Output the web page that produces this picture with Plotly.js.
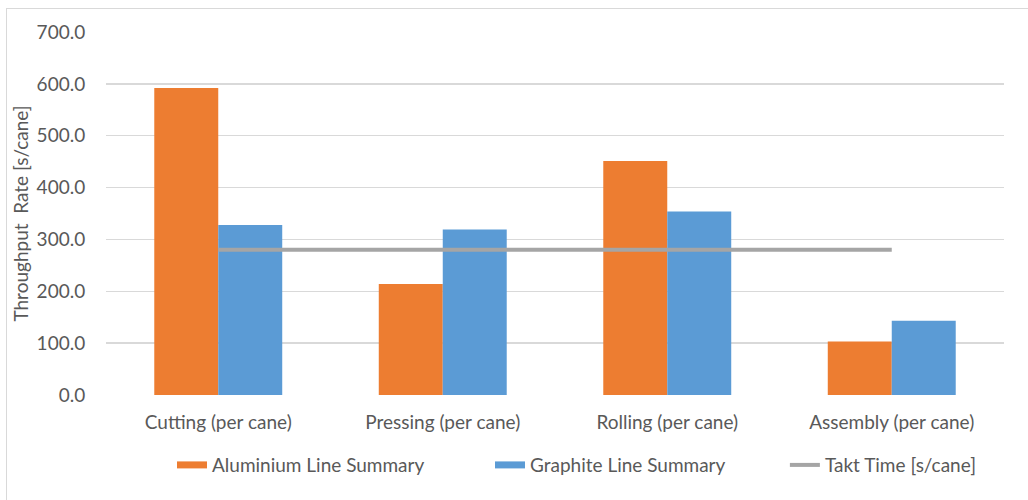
<!DOCTYPE html>
<html>
<head>
<meta charset="utf-8">
<script src="https://cdn.plot.ly/plotly-3.0.1.min.js"></script>
<style>
  html, body { margin: 0; padding: 0; background: #ffffff; overflow: hidden; }
  #chart { position: absolute; left: 0; top: 0; width: 1028px; height: 500px; }
  #frame { position: absolute; left: 6px; top: 8px; width: 1040px; height: 520px;
           border: 1.5px solid #d9d9d9; pointer-events: none; }
</style>
</head>
<body>
<div id="chart"></div>
<div id="frame"></div>
<script>
const categories = ["Cutting (per cane)", "Pressing (per cane)", "Rolling (per cane)", "Assembly (per cane)"];
const aluminiumValues = [592, 214, 451, 103];
const graphiteValues = [328, 319, 354, 143];
const taktValues = [280, 280, 280, 280];
const yTickValues = [0, 100, 200, 300, 400, 500, 600, 700];
const yTickLabels = ["0.0", "100.0", "200.0", "300.0", "400.0", "500.0", "600.0", "700.0"];
const seriesNames = ["Aluminium Line Summary", "Graphite Line Summary", "Takt Time [s/cane]"];

const fontFam = "Lato, 'Open Sans', sans-serif";
const textColor = "#595959";
const fs = 19;
const orange = "#ED7D31", blue = "#5B9BD5", gray = "#A5A5A5";

const data = [
  { type: "bar", name: seriesNames[0], x: categories, y: aluminiumValues,
    marker: { color: orange }, showlegend: false },
  { type: "bar", name: seriesNames[1], x: categories, y: graphiteValues,
    marker: { color: blue }, showlegend: false },
  { type: "scatter", mode: "lines", name: seriesNames[2], x: categories, y: taktValues,
    line: { color: gray, width: 4 }, legend: "legend3" },
  // legend-only entries so the swatches are wide, flat rectangles like the original
  { type: "scatter", mode: "lines", name: seriesNames[0], x: [categories[0]], y: [null],
    line: { color: orange, width: 7 }, legend: "legend", hoverinfo: "skip" },
  { type: "scatter", mode: "lines", name: seriesNames[1], x: [categories[0]], y: [null],
    line: { color: blue, width: 7 }, legend: "legend2", hoverinfo: "skip" }
];

function legendAt(xp) {
  return { orientation: "h", x: xp, xanchor: "left", xref: "paper",
           y: -0.193, yanchor: "middle", bgcolor: "rgba(0,0,0,0)",
           font: { family: fontFam, size: fs, color: textColor } };
}

const layout = {
  width: 1028, height: 500,
  margin: { l: 106, r: 24, t: 32, b: 105 },
  paper_bgcolor: "#ffffff", plot_bgcolor: "#ffffff",
  font: { family: fontFam, size: fs, color: textColor },
  barmode: "group",
  bargap: 0.43,
  bargroupgap: 0,
  showlegend: true,
  legend: legendAt(0.0735),
  legend2: legendAt(0.4276),
  legend3: legendAt(0.756),
  xaxis: {
    type: "category",
    showgrid: false, zeroline: false, showline: false,
    ticks: "outside", ticklen: 10, tickcolor: "rgba(0,0,0,0)",
    tickfont: { family: fontFam, size: fs, color: textColor }
  },
  yaxis: {
    range: [0, 700],
    tickvals: yTickValues, ticktext: yTickLabels,
    showgrid: true, gridcolor: "#d9d9d9", gridwidth: 1.3,
    zeroline: false, showline: false,
    ticks: "outside", ticklen: 16, tickcolor: "rgba(0,0,0,0)",
    tickfont: { family: fontFam, size: fs, color: textColor },
    title: { text: "Throughput  Rate [s/cane]", standoff: 2,
             font: { family: fontFam, size: fs, color: textColor } }
  }
};

Plotly.newPlot("chart", data, layout, { displayModeBar: false, staticPlot: true });
</script>
</body>
</html>
